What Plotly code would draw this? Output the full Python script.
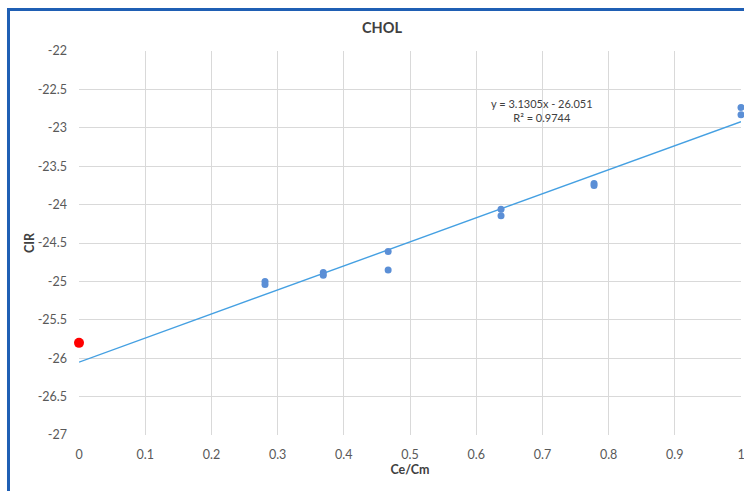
import plotly.graph_objects as go

# Measured CIR against Ce/Cm ratio
ratio = [0.281, 0.281, 0.369, 0.369, 0.467, 0.467, 0.6375, 0.6375, 0.778, 0.778, 1.0, 1.0]
cir = [-25.0, -25.04, -24.885, -24.92, -24.61, -24.85, -24.06, -24.145, -23.725, -23.75, -22.735, -22.83]

# Reference point at zero ratio
ref_ratio = [0.0]
ref_cir = [-25.8]

# Linear trendline coefficients
slope = 3.1305
intercept = -26.051
r_squared = 0.9744
fit_x = [0.0, 1.0]
fit_y = [slope * x + intercept for x in fit_x]

y_ticks = [-22, -22.5, -23, -23.5, -24, -24.5, -25, -25.5, -26, -26.5, -27]
x_ticks = [0, 0.1, 0.2, 0.3, 0.4, 0.5, 0.6, 0.7, 0.8, 0.9, 1]

FONT = "Lato"
TICK_COLOR = "#595959"
GRID = "#D9D9D9"

fig = go.Figure()
fig.add_trace(go.Scatter(
    x=fit_x, y=fit_y, mode="lines",
    line=dict(color="#45A0E2", width=1.4),
    hoverinfo="skip", showlegend=False,
))
fig.add_trace(go.Scatter(
    x=ratio, y=cir, mode="markers",
    marker=dict(color="#5B8FD6", size=7),
    showlegend=False, cliponaxis=False,
))
fig.add_trace(go.Scatter(
    x=ref_ratio, y=ref_cir, mode="markers",
    marker=dict(color="#FF0000", size=10),
    showlegend=False, cliponaxis=False,
))

fig.update_layout(
    width=744, height=491,
    margin=dict(l=79, r=3, t=51, b=56),
    paper_bgcolor="white", plot_bgcolor="white",
    font=dict(family=FONT, size=12, color=TICK_COLOR),
    xaxis=dict(
        range=[0, 1], tickvals=x_ticks,
        ticktext=[("%g" % v) for v in x_ticks],
        showgrid=True, gridcolor=GRID, gridwidth=1,
        zeroline=False, showline=False, ticks="",
        automargin=False,
        ticklabelstandoff=10, ticklabeloverflow="allow",
        tickfont=dict(family=FONT, size=12.5, color=TICK_COLOR),
        title=dict(text="<b>Ce/Cm</b>", font=dict(family=FONT, size=12.5, color="#404040"), standoff=2),
    ),
    yaxis=dict(
        range=[-27, -22], tickvals=y_ticks,
        ticktext=[("%g" % v).replace("\u2212", "-") for v in y_ticks],
        showgrid=True, gridcolor=GRID, gridwidth=1,
        zeroline=False, showline=False, ticks="",
        automargin=False,
        ticklabelstandoff=11,
        tickfont=dict(family=FONT, size=12.5, color=TICK_COLOR),
        title=dict(text="<b>CIR</b>", font=dict(family=FONT, size=12.5, color="#404040"), standoff=0),
    ),
    shapes=[
        dict(type="rect", xref="paper", yref="paper",
             x0=-0.1065, x1=1.2, y0=-0.3, y1=1.108,
             line=dict(color="#1F5FB4", width=3), fillcolor="rgba(0,0,0,0)", layer="above"),
    ],
    annotations=[
        dict(text="<b>CHOL</b>", xref="paper", yref="paper", x=0.458, y=1.06,
             xanchor="center", yanchor="middle", showarrow=False,
             font=dict(family=FONT, size=14.5, color="#404040")),
        dict(text="y = 3.1305x - 26.051<br>R\u00b2 = 0.9744", xref="x", yref="y",
             x=0.699, y=-22.77, xanchor="center", yanchor="middle", showarrow=False,
             align="center", font=dict(family=FONT, size=11, color="#404040")),
    ],
)

fig.write_html("out.html")
